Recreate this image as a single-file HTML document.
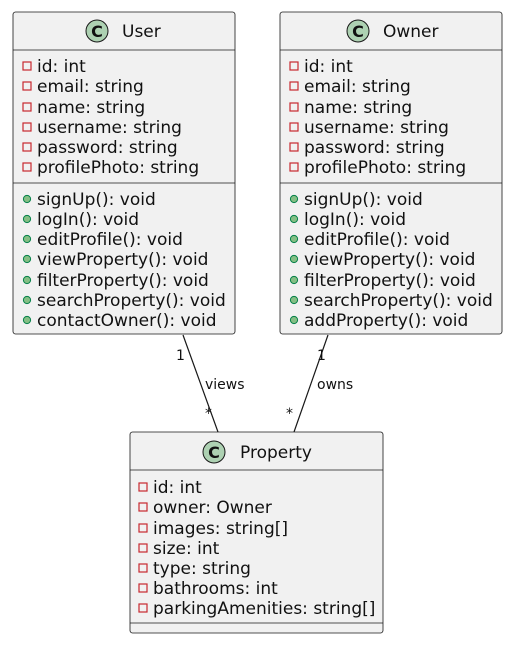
<!DOCTYPE html>
<html><head><meta charset="utf-8"><style>
html,body{margin:0;padding:0;background:#fff;width:511px;height:655px;overflow:hidden}
svg{display:block}
text{font-family:"DejaVu Sans","Liberation Sans",sans-serif;fill:#111}
.m{font-size:17px}
.t{font-size:17px}
.lb{font-size:14px}
</style></head><body>
<svg width="511" height="655" viewBox="0 0 511 655" xmlns="http://www.w3.org/2000/svg">
<defs>
<g id="pv"><rect x="-4" y="-4" width="8" height="8" fill="none" stroke="#C82930" stroke-width="1.2"/></g>
<g id="pb"><circle r="3.6" fill="#84BE84" stroke="#038048" stroke-width="1"/></g>
</defs>
<line x1="183" y1="335" x2="218" y2="432" stroke="#181818" stroke-width="1.2"/>
<line x1="328" y1="335" x2="294" y2="432" stroke="#181818" stroke-width="1.2"/>
<text class="lb" x="176" y="360">1</text>
<text class="lb" x="205" y="389">views</text>
<text class="lb" x="205" y="418">*</text>
<text class="lb" x="317" y="360">1</text>
<text class="lb" x="317" y="389">owns</text>
<text class="lb" x="286" y="418">*</text>

<rect x="13" y="12" width="222" height="322" rx="2.5" fill="#F1F1F1" stroke="#181818" stroke-width="0.8"/>
<line x1="13" y1="50" x2="235" y2="50" stroke="#181818" stroke-width="0.8"/>
<line x1="13" y1="183" x2="235" y2="183" stroke="#181818" stroke-width="0.8"/>
<circle cx="97" cy="31" r="11" fill="#ADD1B2" stroke="#181818" stroke-width="1"/>
<text x="97" y="37" text-anchor="middle" style="font-size:16px;font-weight:bold">C</text>
<text class="t" x="122" y="37">User</text>
<use href="#pv" x="27" y="66"/><text class="m" x="37" y="72">id: int</text>
<use href="#pv" x="27" y="86"/><text class="m" x="37" y="92">email: string</text>
<use href="#pv" x="27" y="107"/><text class="m" x="37" y="113">name: string</text>
<use href="#pv" x="27" y="127"/><text class="m" x="37" y="133">username: string</text>
<use href="#pv" x="27" y="147"/><text class="m" x="37" y="153">password: string</text>
<use href="#pv" x="27" y="167"/><text class="m" x="37" y="173">profilePhoto: string</text>
<use href="#pb" x="27" y="199"/><text class="m" x="37" y="205">signUp(): void</text>
<use href="#pb" x="27" y="219"/><text class="m" x="37" y="225">logIn(): void</text>
<use href="#pb" x="27" y="239"/><text class="m" x="37" y="245">editProfile(): void</text>
<use href="#pb" x="27" y="259"/><text class="m" x="37" y="265">viewProperty(): void</text>
<use href="#pb" x="27" y="280"/><text class="m" x="37" y="286">filterProperty(): void</text>
<use href="#pb" x="27" y="300"/><text class="m" x="37" y="306">searchProperty(): void</text>
<use href="#pb" x="27" y="320"/><text class="m" x="37" y="326">contactOwner(): void</text>

<rect x="280" y="12" width="222" height="322" rx="2.5" fill="#F1F1F1" stroke="#181818" stroke-width="0.8"/>
<line x1="280" y1="50" x2="502" y2="50" stroke="#181818" stroke-width="0.8"/>
<line x1="280" y1="183" x2="502" y2="183" stroke="#181818" stroke-width="0.8"/>
<circle cx="358" cy="31" r="11" fill="#ADD1B2" stroke="#181818" stroke-width="1"/>
<text x="358" y="37" text-anchor="middle" style="font-size:16px;font-weight:bold">C</text>
<text class="t" x="383" y="37">Owner</text>
<use href="#pv" x="294" y="66"/><text class="m" x="304" y="72">id: int</text>
<use href="#pv" x="294" y="86"/><text class="m" x="304" y="92">email: string</text>
<use href="#pv" x="294" y="107"/><text class="m" x="304" y="113">name: string</text>
<use href="#pv" x="294" y="127"/><text class="m" x="304" y="133">username: string</text>
<use href="#pv" x="294" y="147"/><text class="m" x="304" y="153">password: string</text>
<use href="#pv" x="294" y="167"/><text class="m" x="304" y="173">profilePhoto: string</text>
<use href="#pb" x="294" y="199"/><text class="m" x="304" y="205">signUp(): void</text>
<use href="#pb" x="294" y="219"/><text class="m" x="304" y="225">logIn(): void</text>
<use href="#pb" x="294" y="239"/><text class="m" x="304" y="245">editProfile(): void</text>
<use href="#pb" x="294" y="259"/><text class="m" x="304" y="265">viewProperty(): void</text>
<use href="#pb" x="294" y="280"/><text class="m" x="304" y="286">filterProperty(): void</text>
<use href="#pb" x="294" y="300"/><text class="m" x="304" y="306">searchProperty(): void</text>
<use href="#pb" x="294" y="320"/><text class="m" x="304" y="326">addProperty(): void</text>

<rect x="130" y="432" width="253" height="201" rx="2.5" fill="#F1F1F1" stroke="#181818" stroke-width="0.8"/>
<line x1="130" y1="470" x2="383" y2="470" stroke="#181818" stroke-width="0.8"/>
<line x1="130" y1="623" x2="383" y2="623" stroke="#181818" stroke-width="0.8"/>
<circle cx="214" cy="452" r="11" fill="#ADD1B2" stroke="#181818" stroke-width="1"/>
<text x="214" y="458" text-anchor="middle" style="font-size:16px;font-weight:bold">C</text>
<text class="t" x="240" y="458">Property</text>
<use href="#pv" x="143" y="487"/><text class="m" x="153" y="493">id: int</text>
<use href="#pv" x="143" y="507"/><text class="m" x="153" y="513">owner: Owner</text>
<use href="#pv" x="143" y="528"/><text class="m" x="153" y="534">images: string[]</text>
<use href="#pv" x="143" y="548"/><text class="m" x="153" y="554">size: int</text>
<use href="#pv" x="143" y="568"/><text class="m" x="153" y="574">type: string</text>
<use href="#pv" x="143" y="588"/><text class="m" x="153" y="594">bathrooms: int</text>
<use href="#pv" x="143" y="608"/><text class="m" x="153" y="614">parkingAmenities: string[]</text>
</svg>
</body></html>
